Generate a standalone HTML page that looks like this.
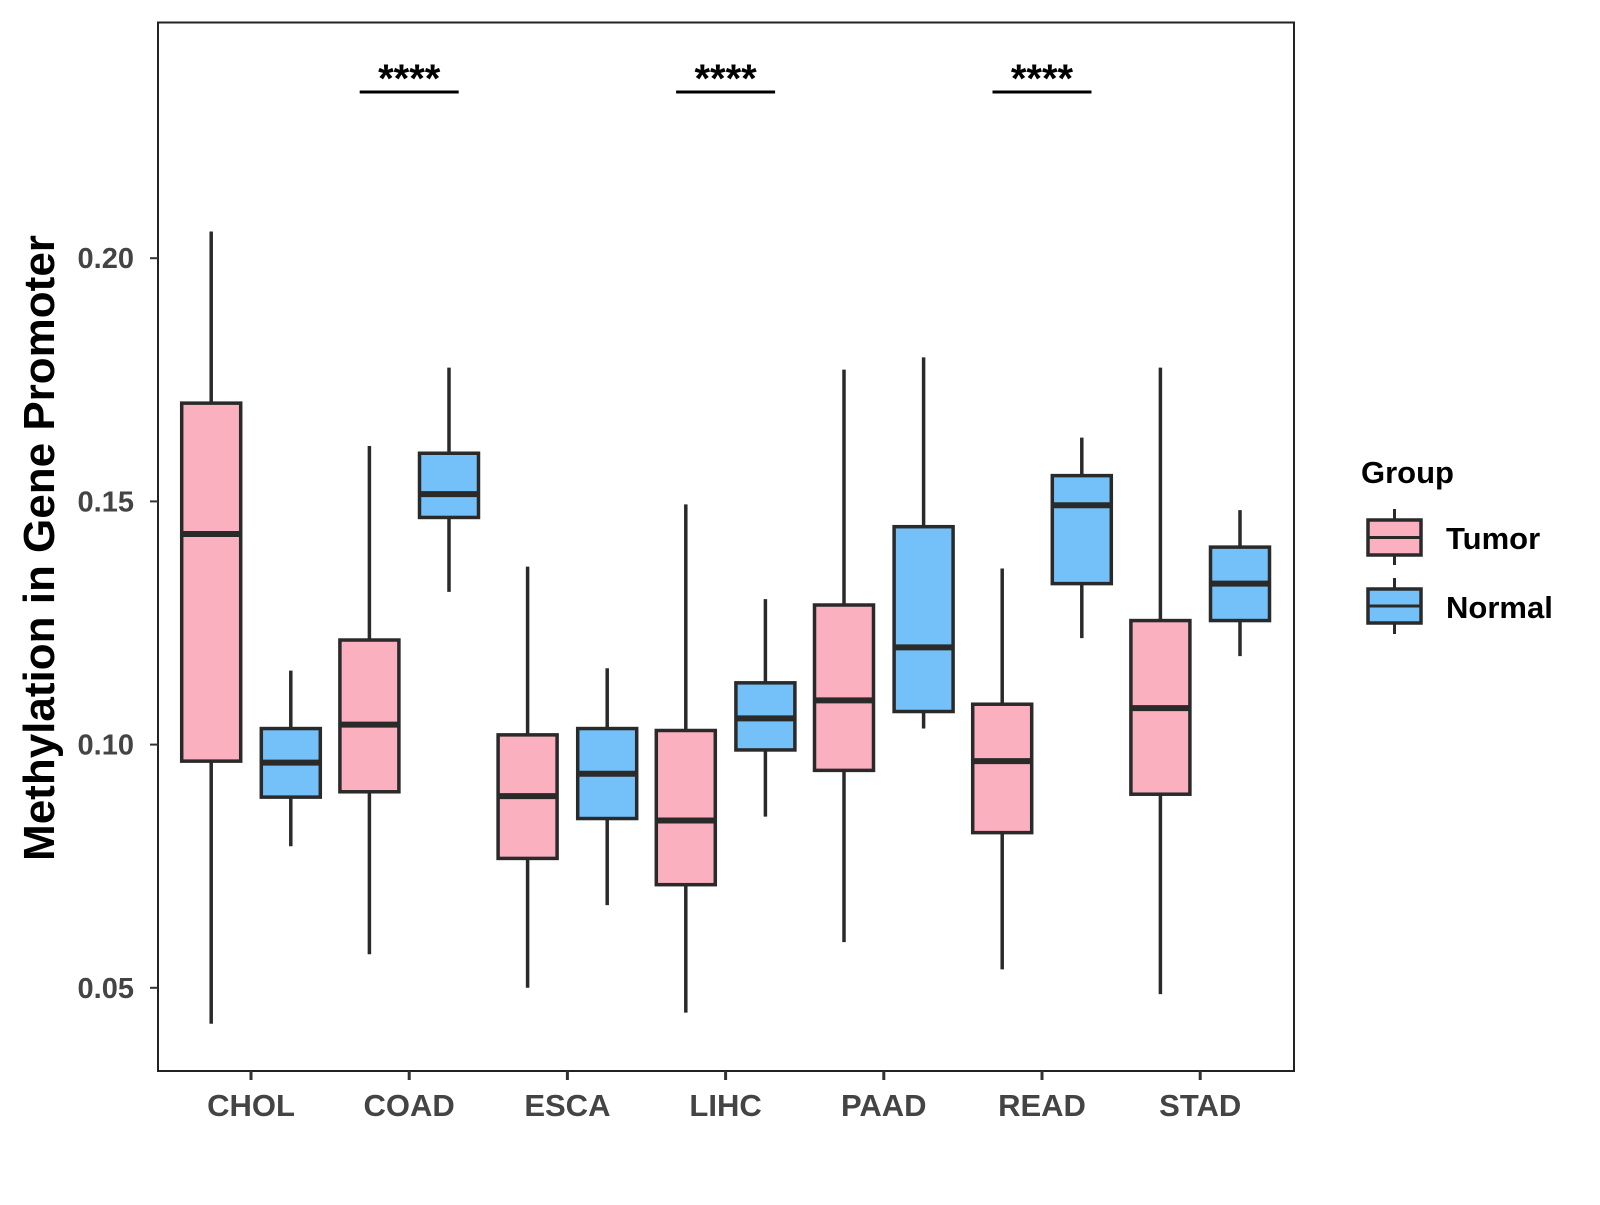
<!DOCTYPE html>
<html><head><meta charset="utf-8"><style>
body{margin:0;background:#fff}
svg text{font-family:"Liberation Sans",sans-serif;font-weight:bold}
</style></head><body>
<svg id="chart" width="1600" height="1200" xmlns="http://www.w3.org/2000/svg">
<rect x="158" y="22.5" width="1136" height="1048.5" fill="#fff" stroke="#222" stroke-width="2"/>
<g id="marks"></g>
<text transform="translate(54,548) rotate(-90)" text-anchor="middle" font-size="44" fill="#000">Methylation in Gene Promoter</text>
<text x="1361" y="483" font-size="31" fill="#000">Group</text>
<g>
<line x1="1394.5" y1="509" x2="1394.5" y2="565" stroke="#2a2a2a" stroke-width="3"/>
<rect x="1368" y="520" width="53" height="35" fill="#FBB0C0" stroke="#2a2a2a" stroke-width="3.5"/>
<line x1="1368" y1="537.5" x2="1421" y2="537.5" stroke="#2a2a2a" stroke-width="3"/>
<text x="1446" y="549" font-size="31" fill="#000">Tumor</text></g>
<g>
<line x1="1394.5" y1="578" x2="1394.5" y2="634" stroke="#2a2a2a" stroke-width="3"/>
<rect x="1368" y="589" width="53" height="34" fill="#74C0F8" stroke="#2a2a2a" stroke-width="3.5"/>
<line x1="1368" y1="606" x2="1421" y2="606" stroke="#2a2a2a" stroke-width="3"/>
<text x="1446" y="618" font-size="31" fill="#000">Normal</text></g>
</svg>
<script>
const categories=["CHOL","COAD","ESCA","LIHC","PAAD","READ","STAD"];
const tumorStats=[[0.0426,0.0966,0.1433,0.1702,0.2055],[0.0569,0.0903,0.1041,0.1215,0.1614],[0.0500,0.0766,0.0894,0.1020,0.1366],[0.0449,0.0712,0.0844,0.1029,0.1494],[0.0594,0.0947,0.1091,0.1287,0.1771],[0.0538,0.0819,0.0966,0.1083,0.1362],[0.0487,0.0898,0.1075,0.1255,0.1775]];
const normalStats=[[0.0791,0.0892,0.0963,0.1033,0.1152],[0.1314,0.1467,0.1515,0.1599,0.1775],[0.0670,0.0848,0.0940,0.1033,0.1157],[0.0852,0.0989,0.1054,0.1127,0.1299],[0.1033,0.1068,0.1200,0.1448,0.1796],[0.1219,0.1331,0.1492,0.1553,0.1631],[0.1182,0.1255,0.1331,0.1406,0.1482]];
const yTicks=[0.05,0.10,0.15,0.20];
const yTickLabels=["0.05","0.10","0.15","0.20"];
const sigCategories=["COAD","LIHC","READ"];
const sigLabels=["****","****","****"];
const NS="http://www.w3.org/2000/svg";
const g=document.getElementById('marks');
function y(v){return 258.2+(0.20-v)*4864;}
function x(i){return 251+i*158.2;}
function mk(t,a,p){const e=document.createElementNS(NS,t);for(const k in a)e.setAttribute(k,a[k]);(p||g).appendChild(e);return e;}
yTicks.forEach((v,i)=>{
  const t=mk('line',{x1:150,x2:158,y1:y(v),y2:y(v),stroke:'#333','stroke-width':2});
  
  
  const l=mk('text',{x:134,y:y(v)+10,'text-anchor':'end','font-size':29,fill:'#444'});
  l.textContent=yTickLabels[i];
  
  
});
categories.forEach((c,i)=>{
  const t=mk('line',{x1:x(i),x2:x(i),y1:1071,y2:1080,stroke:'#333','stroke-width':3});
  
  
  const l=mk('text',{x:x(i),y:1116,'text-anchor':'middle','font-size':31,fill:'#444'});
  l.textContent=c;
  
  
  [[tumorStats[i],-39.8,'#FBB0C0','tumor'],[normalStats[i],39.8,'#74C0F8','normal']].forEach(([s,off,col,nm])=>{
    const cx=x(i)+off,w=59;
    const grp=mk('g',{});
    
    
    mk('line',{x1:cx,x2:cx,y1:y(s[4]),y2:y(s[0]),stroke:'#2a2a2a','stroke-width':3.5},grp);
    mk('rect',{x:cx-w/2,y:y(s[3]),width:w,height:y(s[1])-y(s[3]),fill:col,stroke:'#2a2a2a','stroke-width':3.5},grp);
    mk('line',{x1:cx-w/2,x2:cx+w/2,y1:y(s[2]),y2:y(s[2]),stroke:'#2a2a2a','stroke-width':6},grp);
  });
});
sigCategories.forEach((c,k)=>{
  const i=categories.indexOf(c);
  const b=mk('line',{x1:x(i)-49.5,x2:x(i)+49.5,y1:92,y2:92,stroke:'#000','stroke-width':3});
  
  
  const t=mk('text',{x:x(i),y:92,'text-anchor':'middle','font-size':40,fill:'#000'});
  t.textContent=sigLabels[k];
  
  
});
</script>
</body></html>
